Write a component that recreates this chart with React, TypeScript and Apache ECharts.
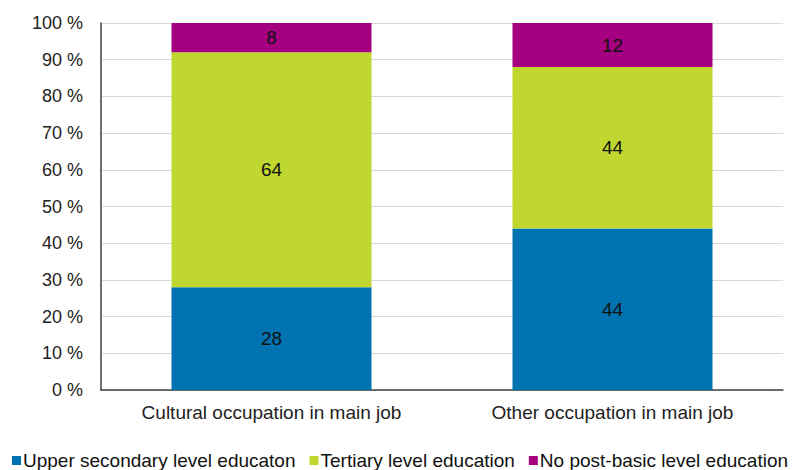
import React, { useEffect, useRef } from "react";
import * as echarts from "echarts";

const categories = ["Cultural occupation in main job", "Other occupation in main job"];
const upperSecondary = [28, 44];
const tertiary = [64, 44];
const noPostBasic = [8, 12];
const seriesNames = ["Upper secondary level educaton", "Tertiary level education", "No post-basic level education"];
const colors = ["#0073b0", "#c0d72f", "#a5007f"];

export default function App() {
  const ref = useRef<HTMLDivElement>(null);
  useEffect(() => {
    const chart = echarts.init(ref.current!, null, { renderer: "svg" });
    const font = "Liberation Sans, Arial, sans-serif";
    const mk = (name: string, data: number[], color: string) => ({
      name,
      type: "bar",
      stack: "total",
      data,
      barWidth: 200,
      itemStyle: { color },
      label: { show: true, position: "inside", color: "#111", fontSize: 19, fontFamily: font },
    });
    chart.setOption({
      animation: false,
      textStyle: { fontFamily: font },
      grid: { left: 101, right: 11, top: 23, bottom: 80 },
      legend: {
        left: 12,
        bottom: 0,
        width: 900,
        padding: 0,
        itemWidth: 9,
        itemHeight: 9,
        itemGap: 14,
        icon: "rect",
        textStyle: { fontSize: 19, color: "#111", fontFamily: font, padding: [0, 0, 0, -3] },
        data: seriesNames,
      },
      xAxis: {
        type: "category",
        data: categories,
        axisLine: { lineStyle: { color: "#404040", width: 1.5 } },
        axisTick: { show: false },
        axisLabel: { fontSize: 19, color: "#222", margin: 13, fontFamily: font },
      },
      yAxis: {
        type: "value",
        min: 0,
        max: 100,
        interval: 10,
        axisLine: { show: true, lineStyle: { color: "#404040", width: 1.5 } },
        axisTick: { show: false },
        splitLine: { lineStyle: { color: "#d9d9d9" } },
        axisLabel: { fontSize: 18, color: "#222", margin: 18, formatter: "{value} %", fontFamily: font },
      },
      series: [
        mk(seriesNames[0], upperSecondary, colors[0]),
        mk(seriesNames[1], tertiary, colors[1]),
        mk(seriesNames[2], noPostBasic, colors[2]),
      ],
    });
    return () => chart.dispose();
  }, []);
  return <div ref={ref} style={{ width: 794, height: 470, position: "absolute", left: 0, top: 0 }} />;
}
